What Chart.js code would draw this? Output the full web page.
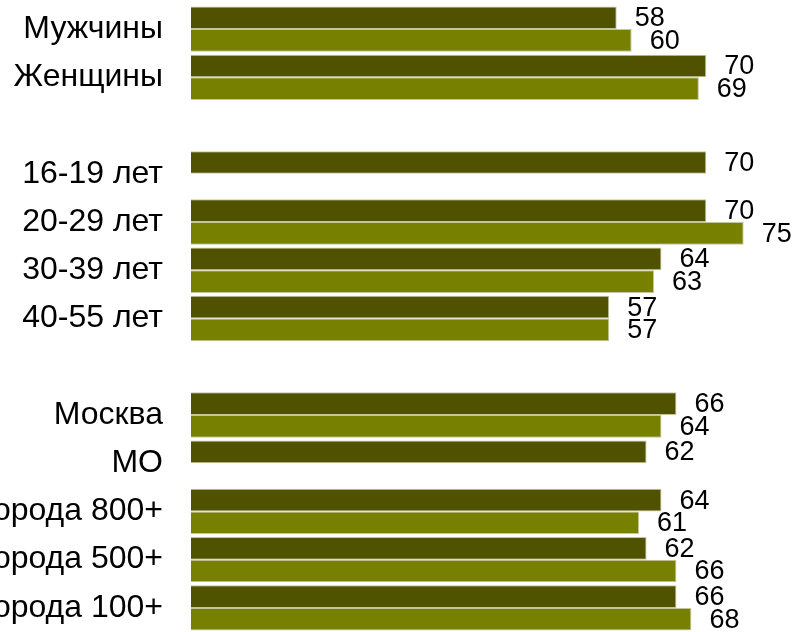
<!DOCTYPE html>
<html lang="ru">
<head>
    <meta charset="UTF-8">
    <title>Мужчины / Женщины / возраст / города</title>
    <script src="https://cdn.jsdelivr.net/npm/chart.js"></script>
    <style>
        html, body { margin: 0; padding: 0; background: #ffffff; }
        #wrap { width: 794px; height: 632px; }
    </style>
</head>
<body>
    <div id="wrap"><canvas id="barChart" width="794" height="632"></canvas></div>

    <script>
        // категории (пустые строки — промежутки между группами)
        const categories = ['Мужчины', 'Женщины', '', '16-19 лет', '20-29 лет', '30-39 лет', '40-55 лет', '',
            'Москва', 'МО', 'Города 800+', 'Города 500+', 'Города 100+'];
        // первый ряд (тёмный)
        const seriesDark = [58, 70, null, 70, 70, 64, 57, null, 66, 62, 64, 62, 66];
        // второй ряд (светлый)
        const seriesLight = [60, 69, null, null, 75, 63, 57, null, 64, null, 61, 66, 68];

        const darkColor = '#505200';
        const lightColor = '#788000';

        // подписи значений справа от полос
        const valueLabels = {
            id: 'valueLabels',
            afterDatasetsDraw(chart) {
                const ctx = chart.ctx;
                ctx.save();
                ctx.font = '27px "Liberation Sans", Arial, sans-serif';
                ctx.fillStyle = '#000000';
                ctx.textAlign = 'left';
                ctx.textBaseline = 'middle';
                chart.data.datasets.forEach((ds, i) => {
                    chart.getDatasetMeta(i).data.forEach((bar, j) => {
                        const v = ds.data[j];
                        if (v === null || v === undefined) return;
                        ctx.fillText(String(v), bar.x + 18, bar.y + 1);
                    });
                });
                ctx.restore();
            }
        };

        const ctx = document.getElementById('barChart').getContext('2d');
        new Chart(ctx, {
            type: 'bar',
            data: {
                labels: categories,
                datasets: [{
                    label: 'ряд 1',
                    data: seriesDark,
                    backgroundColor: darkColor,
                    borderColor: '#c4c6a0',
                    borderWidth: 1,
                    categoryPercentage: 0.94,
                    barPercentage: 1.0
                }, {
                    label: 'ряд 2',
                    data: seriesLight,
                    backgroundColor: lightColor,
                    borderColor: '#c4c6a0',
                    borderWidth: 1,
                    categoryPercentage: 0.94,
                    barPercentage: 1.0
                }]
            },
            options: {
                indexAxis: 'y',
                responsive: false,
                animation: false,
                layout: { padding: { top: 5, bottom: -3, right: 13, left: 0 } },
                scales: {
                    x: {
                        display: false,
                        min: 1,
                        max: 80
                    },
                    y: {
                        grid: { display: false, drawTicks: false },
                        border: { display: false },
                        ticks: {
                            padding: 28,
                            color: '#000000',
                            font: { family: '"Liberation Sans", Arial, sans-serif', size: 32 }
                        },
                        afterFit(scale) {
                            scale.width = 191;
                            scale.paddingTop = 0;
                            scale.paddingBottom = 0;
                        }
                    }
                },
                plugins: {
                    legend: { display: false },
                    tooltip: { enabled: false }
                }
            },
            plugins: [valueLabels]
        });
    </script>
</body>
</html>
